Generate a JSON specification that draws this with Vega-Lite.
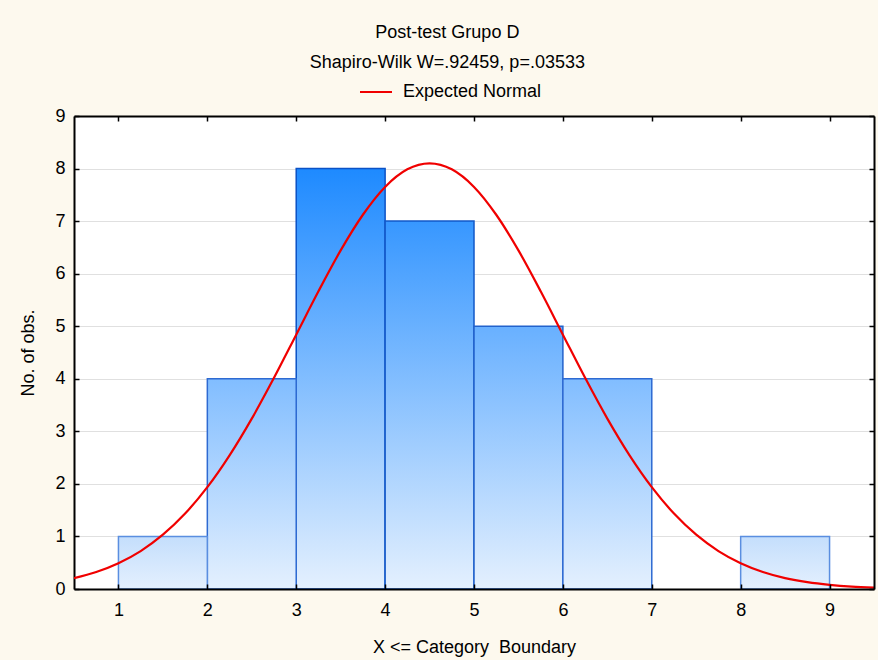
{
  "$schema": "https://vega.github.io/schema/vega-lite/v6.json",
  "width": 800,
  "height": 473,
  "autosize": {"type": "none"},
  "padding": {"left": 74, "top": 116, "right": 4, "bottom": 71},
  "background": "#fdf9ee",
  "config": {
    "font": "Liberation Sans",
    "view": {"fill": "white", "stroke": null},
    "axis": {
      "domainColor": "black",
      "domainWidth": 2,
      "tickColor": "black",
      "tickWidth": 1.5,
      "labelFont": "Liberation Sans",
      "labelFontSize": 18,
      "labelColor": "black",
      "titleFont": "Liberation Sans",
      "titleFontSize": 18,
      "titleFontWeight": "normal",
      "titleColor": "black"
    }
  },
  "title": {
    "text": "Post-test Grupo D",
    "subtitle": "Shapiro-Wilk W=.92459, p=.03533",
    "font": "Liberation Sans",
    "subtitleFont": "Liberation Sans",
    "fontSize": 18,
    "subtitleFontSize": 18,
    "fontWeight": "normal",
    "color": "black",
    "subtitleColor": "black",
    "anchor": "middle",
    "frame": "bounds",
    "offset": 3,
    "subtitlePadding": 12
  },
  "datasets": {
    "bins": [
      {"start": 1, "end": 2, "count": 1},
      {"start": 2, "end": 3, "count": 4},
      {"start": 3, "end": 4, "count": 8},
      {"start": 4, "end": 5, "count": 7},
      {"start": 5, "end": 6, "count": 5},
      {"start": 6, "end": 7, "count": 4},
      {"start": 7, "end": 8, "count": 0},
      {"start": 8, "end": 9, "count": 1}
    ],
    "curve": [
      {"x": 0.5, "y": 0.208}, {"x": 0.75, "y": 0.324}, {"x": 1.0, "y": 0.491}, {"x": 1.25, "y": 0.722},
      {"x": 1.5, "y": 1.033}, {"x": 1.75, "y": 1.435}, {"x": 2.0, "y": 1.937}, {"x": 2.25, "y": 2.543},
      {"x": 2.5, "y": 3.242}, {"x": 2.75, "y": 4.018}, {"x": 3.0, "y": 4.84}, {"x": 3.25, "y": 5.665},
      {"x": 3.5, "y": 6.443}, {"x": 3.75, "y": 7.121}, {"x": 4.0, "y": 7.65}, {"x": 4.25, "y": 7.985},
      {"x": 4.5, "y": 8.1}, {"x": 4.75, "y": 7.985}, {"x": 5.0, "y": 7.65}, {"x": 5.25, "y": 7.121},
      {"x": 5.5, "y": 6.443}, {"x": 5.75, "y": 5.665}, {"x": 6.0, "y": 4.84}, {"x": 6.25, "y": 4.018},
      {"x": 6.5, "y": 3.242}, {"x": 6.75, "y": 2.543}, {"x": 7.0, "y": 1.937}, {"x": 7.25, "y": 1.435},
      {"x": 7.5, "y": 1.033}, {"x": 7.75, "y": 0.722}, {"x": 8.0, "y": 0.491}, {"x": 8.25, "y": 0.324},
      {"x": 8.5, "y": 0.208}, {"x": 8.75, "y": 0.13}, {"x": 9.0, "y": 0.079}, {"x": 9.25, "y": 0.046},
      {"x": 9.5, "y": 0.027}
    ]
  },
  "layer": [
    {
      "data": {"name": "bins"},
      "transform": [{"filter": "datum.count == 8"}],
      "mark": {
        "type": "rect",
        "fill": {"gradient": "linear", "x1": 0, "y1": 0, "x2": 0, "y2": 1,
          "stops": [{"offset": 0, "color": "#1e8aff"}, {"offset": 1, "color": "#e4f0fe"}]},
        "stroke": "#0b52c6",
        "strokeWidth": 1.5
      },
      "encoding": {
        "x": {"field": "start", "type": "quantitative",
          "scale": {"domain": [0.5, 9.5], "nice": false, "zero": false},
          "axis": {"orient": "bottom", "values": [1, 2, 3, 4, 5, 6, 7, 8, 9], "grid": false,
            "tickSize": -5, "labelPadding": 17, "title": "X <= Category\u00a0 Boundary",
            "titlePadding": 19, "zindex": 2, "labelFlush": false}},
        "x2": {"field": "end"},
        "y": {"field": "count", "type": "quantitative",
          "scale": {"domain": [0, 9], "nice": false},
          "axis": {"orient": "left", "values": [0, 1, 2, 3, 4, 5, 6, 7, 8, 9], "grid": true,
            "gridColor": "#e0e0e0", "gridWidth": 1, "tickSize": -5, "labelPadding": 14,
            "title": "No. of obs.", "titlePadding": 17, "zindex": 0}},
        "y2": {"datum": 0}
      }
    },
    {
      "data": {"name": "bins"},
      "transform": [{"filter": "datum.count == 7"}],
      "mark": {
        "type": "rect",
        "fill": {"gradient": "linear", "x1": 0, "y1": 0, "x2": 0, "y2": 1,
          "stops": [{"offset": 0, "color": "#3797ff"}, {"offset": 1, "color": "#e4f0fe"}]},
        "stroke": "#1258c8",
        "strokeWidth": 1.5
      },
      "encoding": {
        "x": {"field": "start", "type": "quantitative", "axis": null},
        "x2": {"field": "end"},
        "y": {"field": "count", "type": "quantitative", "axis": null},
        "y2": {"datum": 0}
      }
    },
    {
      "data": {"name": "bins"},
      "transform": [{"filter": "datum.count == 5"}],
      "mark": {
        "type": "rect",
        "fill": {"gradient": "linear", "x1": 0, "y1": 0, "x2": 0, "y2": 1,
          "stops": [{"offset": 0, "color": "#68b0ff"}, {"offset": 1, "color": "#e4f0fe"}]},
        "stroke": "#2262cc",
        "strokeWidth": 1.5
      },
      "encoding": {
        "x": {"field": "start", "type": "quantitative", "axis": null},
        "x2": {"field": "end"},
        "y": {"field": "count", "type": "quantitative", "axis": null},
        "y2": {"datum": 0}
      }
    },
    {
      "data": {"name": "bins"},
      "transform": [{"filter": "datum.count == 4"}],
      "mark": {
        "type": "rect",
        "fill": {"gradient": "linear", "x1": 0, "y1": 0, "x2": 0, "y2": 1,
          "stops": [{"offset": 0, "color": "#81bdff"}, {"offset": 1, "color": "#e4f0fe"}]},
        "stroke": "#2e6ad2",
        "strokeWidth": 1.5
      },
      "encoding": {
        "x": {"field": "start", "type": "quantitative", "axis": null},
        "x2": {"field": "end"},
        "y": {"field": "count", "type": "quantitative", "axis": null},
        "y2": {"datum": 0}
      }
    },
    {
      "data": {"name": "bins"},
      "transform": [{"filter": "datum.count == 1"}],
      "mark": {
        "type": "rect",
        "fill": {"gradient": "linear", "x1": 0, "y1": 0, "x2": 0, "y2": 1,
          "stops": [{"offset": 0, "color": "#c4defc"}, {"offset": 1, "color": "#e4f0fe"}]},
        "stroke": "#5a8ee0",
        "strokeWidth": 1.5
      },
      "encoding": {
        "x": {"field": "start", "type": "quantitative", "axis": null},
        "x2": {"field": "end"},
        "y": {"field": "count", "type": "quantitative", "axis": null},
        "y2": {"datum": 0}
      }
    },
    {
      "data": {"name": "curve"},
      "mark": {"type": "line", "strokeWidth": 2.2, "interpolate": "monotone", "clip": true},
      "encoding": {
        "x": {"field": "x", "type": "quantitative",
          "axis": {"orient": "top", "values": [1, 2, 3, 4, 5, 6, 7, 8, 9], "labels": false,
            "title": null, "tickSize": -5, "grid": false, "zindex": 2}},
        "y": {"field": "y", "type": "quantitative",
          "axis": {"orient": "right", "values": [0, 1, 2, 3, 4, 5, 6, 7, 8, 9], "labels": false,
            "title": null, "tickSize": -5, "grid": false, "zindex": 2}},
        "color": {"datum": "Expected Normal", "type": "nominal",
          "scale": {"range": ["#f00000"]},
          "legend": {"orient": "none", "legendX": 285, "legendY": -41, "title": null,
            "symbolType": "stroke", "symbolSize": 1024, "symbolStrokeWidth": 2,
            "labelFontSize": 18, "labelFont": "Liberation Sans", "labelColor": "black",
            "labelOffset": 10, "padding": 0}}
      }
    }
  ],
  "resolve": {"axis": {"x": "independent", "y": "independent"}}
}
